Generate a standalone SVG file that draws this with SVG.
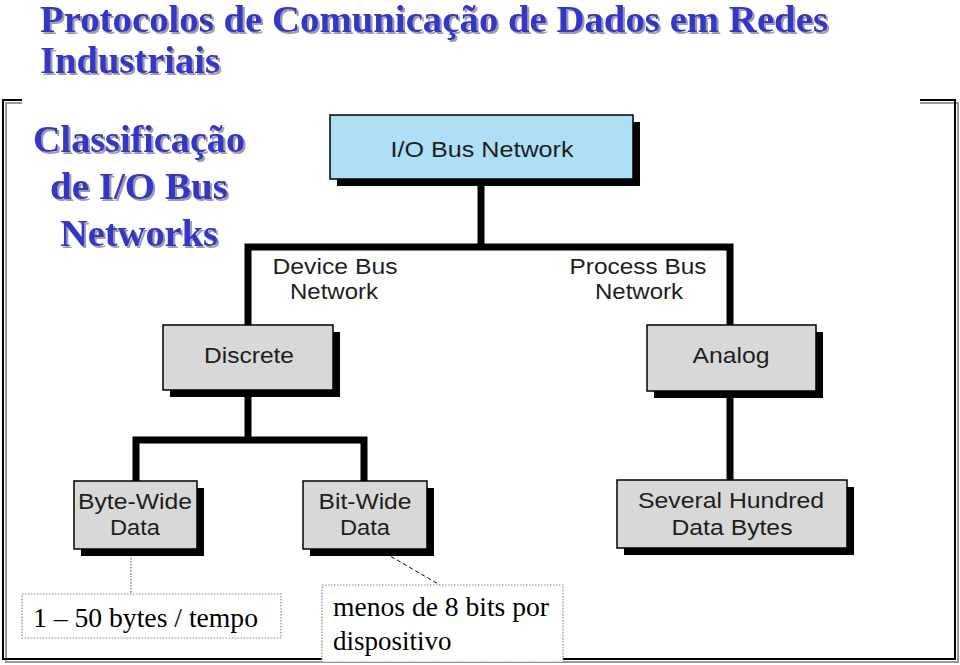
<svg xmlns="http://www.w3.org/2000/svg" width="960" height="665" viewBox="0 0 960 665">
<defs>
<filter id="ts" x="-5%" y="-20%" width="110%" height="150%">
<feDropShadow dx="2" dy="2" stdDeviation="0.6" flood-color="#9C9CAC" flood-opacity="1"/>
</filter>
</defs>
<style>
.title{font-family:"Liberation Serif","Times New Roman",serif;font-weight:bold;font-size:37px;fill:#3434C8;filter:url(#ts)}
.box{stroke:#000;stroke-width:1.5}
.shadow{fill:#000}
.lbl{font-family:"Liberation Sans",Arial,sans-serif;font-size:22px;fill:#1E1E1E;text-anchor:middle}
.note{font-family:"Liberation Serif","Times New Roman",serif;font-size:27px;fill:#000}
.bus{fill:none;stroke:#000;stroke-width:7;stroke-linejoin:miter}
.frameB{fill:none;stroke:#000;stroke-width:2}
.frameG{fill:none;stroke:#999;stroke-width:2}
.nbox{fill:#fff;stroke:#888;stroke-width:1.2;stroke-dasharray:1.5 1.5}
</style>

<g id="frame">
<path class="frameG" d="M22,103 H6 V662 H958 V103 H920"/>
<path class="frameB" d="M22,100 H3 V659 H955 V100 H920"/>
</g>

<g id="title">
<text class="title" x="40" y="32" font-size="35" textLength="788" lengthAdjust="spacingAndGlyphs">Protocolos de Comunicação de Dados em Redes</text>
<text class="title" x="40" y="73" font-size="36" textLength="180" lengthAdjust="spacingAndGlyphs">Industriais</text>
</g>

<g id="subtitle">
<text class="title" x="33" y="152" textLength="212" lengthAdjust="spacingAndGlyphs">Classificação</text>
<text class="title" x="50" y="199" textLength="178" lengthAdjust="spacingAndGlyphs">de I/O Bus</text>
<text class="title" x="60" y="246" textLength="158" lengthAdjust="spacingAndGlyphs">Networks</text>
</g>

<g id="connectors">
<path class="bus" d="M481,186 V247"/>
<path class="bus" d="M248,325 V247 H730 V325"/>
<path class="bus" d="M248,397 V440"/>
<path class="bus" d="M136,481 V440 H364 V481"/>
<path class="bus" d="M730,398 V480"/>
<path d="M131,555 V594" fill="none" stroke="#888" stroke-width="1.5" stroke-dasharray="1.5 1.5"/>
<path d="M385,553 L440,585" fill="none" stroke="#000" stroke-width="1" stroke-dasharray="4 3"/>
</g>

<g id="io-bus-network">
<rect class="shadow" x="337" y="122" width="303" height="64"/>
<rect class="box" x="330" y="115" width="303" height="64" fill="#AEDFF7"/>
<text class="lbl" x="482" y="157" font-size="23" textLength="183" lengthAdjust="spacingAndGlyphs">I/O Bus Network</text>
</g>

<g id="device-bus-network">
<text class="lbl" x="335" y="274" textLength="125" lengthAdjust="spacingAndGlyphs">Device Bus</text>
<text class="lbl" x="334" y="299" textLength="88" lengthAdjust="spacingAndGlyphs">Network</text>
</g>

<g id="process-bus-network">
<text class="lbl" x="638" y="274" textLength="137" lengthAdjust="spacingAndGlyphs">Process Bus</text>
<text class="lbl" x="639" y="299" textLength="88" lengthAdjust="spacingAndGlyphs">Network</text>
</g>

<g id="discrete">
<rect class="shadow" x="170" y="332" width="170" height="65"/>
<rect class="box" x="163" y="325" width="170" height="65" fill="#D8D8D8"/>
<text class="lbl" x="249" y="363" textLength="90" lengthAdjust="spacingAndGlyphs">Discrete</text>
</g>

<g id="analog">
<rect class="shadow" x="654" y="332" width="169" height="66"/>
<rect class="box" x="647" y="325" width="169" height="66" fill="#D8D8D8"/>
<text class="lbl" x="731" y="363" textLength="77" lengthAdjust="spacingAndGlyphs">Analog</text>
</g>

<g id="byte-wide-data">
<rect class="shadow" x="81" y="488" width="123" height="68"/>
<rect class="box" x="74" y="481" width="123" height="68" fill="#D8D8D8"/>
<text class="lbl" x="135" y="509" textLength="114" lengthAdjust="spacingAndGlyphs">Byte-Wide</text>
<text class="lbl" x="135" y="535" textLength="50" lengthAdjust="spacingAndGlyphs">Data</text>
</g>

<g id="bit-wide-data">
<rect class="shadow" x="310" y="488" width="124" height="68"/>
<rect class="box" x="303" y="481" width="124" height="68" fill="#D8D8D8"/>
<text class="lbl" x="365" y="509" textLength="93" lengthAdjust="spacingAndGlyphs">Bit-Wide</text>
<text class="lbl" x="365" y="535" textLength="50" lengthAdjust="spacingAndGlyphs">Data</text>
</g>

<g id="several-hundred-data-bytes">
<rect class="shadow" x="624" y="487" width="230" height="68"/>
<rect class="box" x="617" y="480" width="230" height="68" fill="#D8D8D8"/>
<text class="lbl" x="731" y="508" textLength="186" lengthAdjust="spacingAndGlyphs">Several Hundred</text>
<text class="lbl" x="732" y="535" textLength="121" lengthAdjust="spacingAndGlyphs">Data Bytes</text>
</g>

<g id="note-bytes">
<rect class="nbox" x="22" y="594" width="259" height="44"/>
<text class="note" x="33" y="627" textLength="225" lengthAdjust="spacingAndGlyphs">1 – 50 bytes / tempo</text>
</g>

<g id="note-bits">
<rect class="nbox" x="322" y="585" width="241" height="77"/>
<text class="note" x="333" y="616" textLength="216" lengthAdjust="spacingAndGlyphs">menos de 8 bits por</text>
<text class="note" x="333" y="650">dispositivo</text>
</g>
</svg>
